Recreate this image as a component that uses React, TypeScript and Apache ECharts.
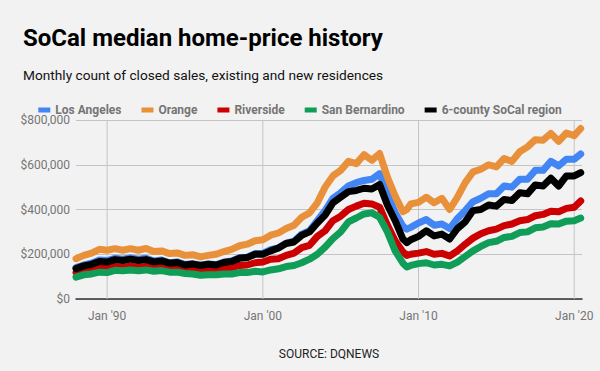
import React, { useEffect, useRef } from "react";
import * as echarts from "echarts";

const titleText = "SoCal median home-price history";
const subtitleText = "Monthly count of closed sales, existing and new residences";
const sourceText = "SOURCE: DQNEWS";

const months = [
  "1988-01", "1988-07", "1989-01", "1989-07", "1990-01", "1990-07", "1991-01", "1991-07", "1992-01", "1992-07",
  "1993-01", "1993-07", "1994-01", "1994-07", "1995-01", "1995-07", "1996-01", "1996-07", "1997-01", "1997-07",
  "1998-01", "1998-07", "1999-01", "1999-07", "2000-01", "2000-07", "2001-01", "2001-07", "2002-01", "2002-07",
  "2003-01", "2003-07", "2004-01", "2004-07", "2005-01", "2005-07", "2006-01", "2006-07", "2007-01", "2007-07",
  "2008-01", "2008-07", "2009-01", "2009-04", "2009-07", "2010-01", "2010-07", "2011-01", "2011-07", "2012-01",
  "2012-07", "2013-01", "2013-07", "2014-01", "2014-07", "2015-01", "2015-07", "2016-01", "2016-07", "2017-01",
  "2017-07", "2018-01", "2018-07", "2019-01", "2019-07", "2020-01", "2020-06",
];

// median prices, thousands of dollars
const losAngeles = [
  140, 152, 160, 174, 172, 182, 178, 184, 178, 182,
  170, 174, 162, 166, 154, 158, 151, 157, 153, 165,
  170, 185, 187, 203, 204, 220, 228, 250, 258, 290,
  305, 350, 395, 450, 475, 505, 520, 530, 535, 560,
  470, 385, 325, 312, 320, 340, 355, 330, 335, 315,
  360, 395, 435, 450, 470, 470, 505, 500, 535, 535,
  575, 575, 615, 595, 625, 625, 648,
];
const orange = [
  180, 195, 205, 222, 218, 225, 218, 225, 218, 226,
  212, 215, 203, 206, 195, 198, 188, 195, 200, 212,
  222, 238, 245, 260, 265, 285, 295, 315, 330, 365,
  385, 430, 500, 550, 575, 615, 605, 645, 620, 650,
  545, 460, 390, 400, 425, 432, 455, 430, 450, 400,
  455, 520, 568, 580, 600, 590, 628, 615, 658, 680,
  712, 710, 740, 705, 742, 730, 762,
];
const riverside = [
  118, 128, 132, 140, 138, 145, 142, 146, 142, 145,
  140, 142, 136, 138, 132, 132, 128, 130, 130, 136,
  140, 150, 152, 162, 165, 178, 180, 195, 205, 230,
  240, 280, 305, 350, 370, 400, 415, 428, 425, 410,
  330, 260, 210, 195, 200, 205, 212, 200, 204, 192,
  215, 245, 272, 292, 305, 312, 328, 335, 350, 355,
  372, 378, 392, 390, 405, 410, 438,
];
const sanBernardino = [
  98, 108, 112, 120, 118, 128, 126, 130, 126, 130,
  124, 127, 120, 120, 114, 112, 106, 108, 108, 112,
  112, 118, 118, 124, 121, 130, 135, 145, 150, 162,
  178, 200, 232, 270, 300, 345, 362, 380, 385, 365,
  300, 215, 160, 143, 150, 158, 162, 152, 155, 148,
  165, 190, 215, 235, 252, 258, 275, 280, 297, 300,
  318, 322, 336, 335, 348, 350, 362,
];
const soCal = [
  136, 148, 155, 168, 165, 176, 172, 178, 172, 176,
  166, 170, 160, 163, 152, 156, 150, 155, 152, 163,
  168, 182, 185, 200, 200, 215, 228, 248, 255, 285,
  300, 340, 375, 430, 455, 480, 485, 495, 492, 512,
  420, 350, 268, 252, 265, 280, 305, 282, 290, 268,
  315, 345, 395, 400, 420, 415, 445, 440, 475, 470,
  510, 505, 540, 505, 550, 550, 565,
];

const seriesNames = ["Los Angeles", "Orange", "Riverside", "San Bernardino", "6-county SoCal region"];
const seriesValues = [losAngeles, orange, riverside, sanBernardino, soCal];
const seriesColors = ["#4285f4", "#e8913a", "#cc0000", "#0f9d58", "#000000"];
const xTickYears = [1990, 2000, 2010, 2020];
const Y_MAX = 800;

const toYear = (m: string) => {
  const [y, mo] = m.split("-").map(Number);
  return y + (mo - 1) / 12;
};

export default function App() {
  const ref = useRef<HTMLDivElement>(null);
  useEffect(() => {
    document.body.style.margin = "0";
    const chart = echarts.init(ref.current!, null, { renderer: "svg" });
    const font = "Roboto";
    const gridColor = "#c4c4c4";
    // vertical gridlines at the labelled years, each drawn as a two-point line on the chart's own axes
    const gridSeries = xTickYears.map((yr) => ({
      name: "grid " + yr,
      type: "line",
      silent: true,
      z: 1,
      showSymbol: false,
      symbol: "none",
      data: [
        [yr, 0],
        [yr, Y_MAX],
      ],
      lineStyle: { width: 1, color: gridColor },
      emphasis: { disabled: true },
    }));
    const dataSeries = seriesNames.map((name, i) => ({
      name,
      type: "line",
      data: months.map((m, j) => [toYear(m), seriesValues[i][j]]),
      showSymbol: false,
      symbol: "none",
      color: seriesColors[i],
      lineStyle: { width: 7, color: seriesColors[i], cap: "round", join: "round" },
      z: 2 + i,
    }));
    chart.setOption({
      animation: false,
      backgroundColor: "#f2f2f2",
      textStyle: { fontFamily: font },
      title: [
        {
          text: titleText,
          left: 18,
          top: 21,
          textStyle: { fontFamily: font, fontSize: 24, fontWeight: "bold", color: "#000" },
        },
        {
          text: subtitleText,
          left: 18,
          top: 63,
          textStyle: { fontFamily: font, fontSize: 13.7, fontWeight: "normal", color: "#111" },
        },
      ],
      legend: {
        top: 99,
        left: "center",
        icon: "rect",
        itemWidth: 12,
        itemHeight: 5,
        itemGap: 20,
        textStyle: { fontFamily: font, fontSize: 12, fontWeight: "bold", color: "#757575" },
        data: seriesNames,
      },
      grid: { left: 76, right: 18, top: 120, bottom: 72, containLabel: false },
      xAxis: {
        type: "value",
        min: 1988,
        max: 2020.5,
        axisLine: { show: true, lineStyle: { color: "#333", width: 1.5 } },
        axisTick: { show: false },
        axisLabel: {
          customValues: xTickYears,
          margin: 11,
          fontSize: 12,
          color: "#757575",
          fontFamily: font,
          formatter: (v: number) => "Jan '" + String(v).slice(2),
        },
        splitLine: { show: false },
      },
      yAxis: {
        type: "value",
        min: 0,
        max: Y_MAX,
        interval: 200,
        axisLine: { show: false },
        axisTick: { show: false },
        axisLabel: {
          fontSize: 12,
          color: "#757575",
          fontFamily: font,
          margin: 6,
          formatter: (v: number) => "$" + (v * 1000).toLocaleString("en-US"),
        },
        splitLine: { show: true, lineStyle: { color: gridColor, width: 1 } },
      },
      graphic: [
        {
          type: "text",
          x: 329,
          y: 354,
          style: {
            text: sourceText,
            fontFamily: font,
            fontSize: 12,
            fill: "#222",
            textAlign: "center",
            textVerticalAlign: "middle",
          },
        },
      ],
      series: [...gridSeries, ...dataSeries],
    });
    return () => chart.dispose();
  }, []);
  return <div ref={ref} style={{ width: 600, height: 371 }} />;
}
